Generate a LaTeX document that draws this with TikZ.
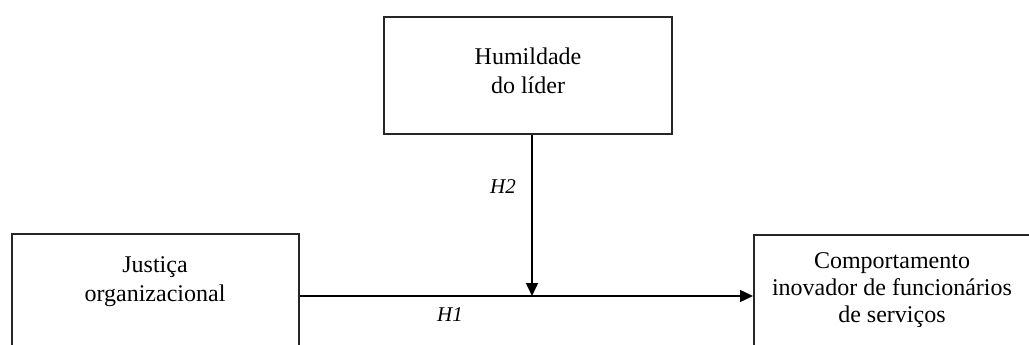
\documentclass[tikz,border=0pt]{standalone}
\usepackage{fontspec}
\setmainfont{Liberation Serif}
\usetikzlibrary{arrows.meta}
\begin{document}
\begin{tikzpicture}[x=1pt,y=-1pt,
  box/.style={draw=black!85, line width=1.8pt, rectangle, inner sep=0pt, anchor=north west},
  txt/.style={align=center, font=\fontsize{24}{29}\selectfont, inner sep=0pt},
  hyp/.style={font=\fontsize{21}{25}\selectfont\itshape, inner sep=0pt},
  conn/.style={line width=1.5pt, -{Triangle[length=13pt,width=12pt]}}]
\useasboundingbox (0,0) rectangle (1029,345);
\clip (0,0) rectangle (1029,345);
\node[box, minimum width=295pt, minimum height=140pt] (cb) at (753,234) {};
\node[box, minimum width=288pt, minimum height=117pt] (hl) at (383,16) {};
\node[txt] (hlt) at (528,71) {Humildade\\do líder};
\node[box, minimum width=287pt, minimum height=140pt] (jo) at (11,233) {};
\node[txt] (jot) at (155,282) {Justiça\\organizacional};
\node[txt, font=\fontsize{24}{27}\selectfont] (cbt) at (892,290) {Comportamento\\inovador de funcionários\\de serviços};
\coordinate (m) at (532,296);
\draw[conn] (jo.east |- m) -- (cb.west |- m);
\draw[conn] (hl.south -| m) -- (m);
\node[hyp] (h2) at (503,187) {H2};
\node[hyp] (h1) at (450,315) {H1};
\end{tikzpicture}
\end{document}
